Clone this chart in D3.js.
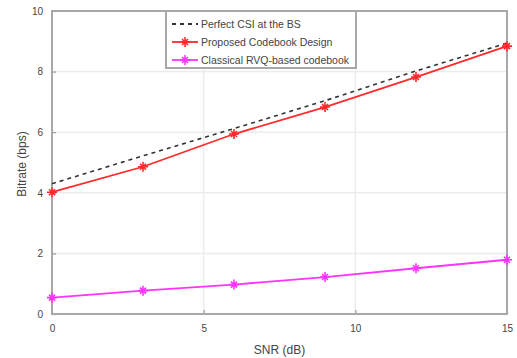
<!DOCTYPE html>
<html>
<head>
<meta charset="utf-8">
<script src="https://cdn.jsdelivr.net/npm/d3@7"></script>
<style>
  body { margin: 0; background: #fff; }
  svg text { font-family: "Liberation Sans", Arial, sans-serif; fill: #444; }
</style>
</head>
<body>
<div id="chart"></div>
<script>
// chart data
var snr = [0, 3, 6, 9, 12, 15];
var perfectCSI = [4.3, 5.22, 6.12, 7.04, 8.02, 8.94];
var proposed = [4.02, 4.86, 5.94, 6.83, 7.82, 8.84];
var classical = [0.54, 0.77, 0.97, 1.22, 1.51, 1.79];
var xTicks = [0, 5, 10, 15];
var yTicks = [0, 2, 4, 6, 8, 10];
var seriesNames = ["Perfect CSI at the BS", "Proposed Codebook Design", "Classical RVQ-based codebook"];

function init() {
    var w = 517, h = 358;
    var left = 52, right = 507, top = 11, bottom = 314;

    var svg = d3.select("#chart").append("svg")
        .attr("width", w)
        .attr("height", h);

    var xScale = d3.scaleLinear().domain([0, 15]).range([left, right]);
    var yScale = d3.scaleLinear().domain([0, 10]).range([bottom, top]);

    // grid
    svg.append("g").selectAll("line.gx")
        .data(xTicks).enter().append("line")
        .attr("x1", d => xScale(d)).attr("x2", d => xScale(d))
        .attr("y1", top).attr("y2", bottom)
        .attr("stroke", "#ececec").attr("stroke-width", 1.5);
    svg.append("g").selectAll("line.gy")
        .data(yTicks).enter().append("line")
        .attr("x1", left).attr("x2", right)
        .attr("y1", d => yScale(d)).attr("y2", d => yScale(d))
        .attr("stroke", "#ececec").attr("stroke-width", 1.5);

    // axes
    var xAxis = d3.axisBottom(xScale).tickValues(xTicks).tickSize(-4).tickPadding(11);
    var yAxis = d3.axisLeft(yScale).tickValues(yTicks).tickSize(-4).tickPadding(9);

    var gx = svg.append("g").attr("transform", "translate(0," + bottom + ")").call(xAxis);
    var gy = svg.append("g").attr("transform", "translate(" + left + ",0)").call(yAxis);
    [gx, gy].forEach(g => {
        g.select(".domain").remove();
        g.selectAll(".tick line").attr("stroke", "#999").attr("stroke-width", 1.2);
        g.selectAll("text").attr("font-size", 10).attr("fill", "#555");
    });

    // box
    svg.append("rect")
        .attr("x", left).attr("y", top)
        .attr("width", right - left).attr("height", bottom - top)
        .attr("fill", "none").attr("stroke", "#a8a8a8").attr("stroke-width", 2);

    // labels
    svg.append("text")
        .attr("x", (left + right) / 2).attr("y", 354)
        .attr("text-anchor", "middle").attr("font-size", 12)
        .text("SNR (dB)");
    svg.append("text")
        .attr("transform", "translate(26," + 164 + ") rotate(-90)")
        .attr("text-anchor", "middle").attr("font-size", 12)
        .text("Bitrate (bps)");

    // lines
    var line = d3.line()
        .x(d => xScale(d[0]))
        .y(d => yScale(d[1]));

    svg.append("path")
        .datum(d3.zip(snr, perfectCSI))
        .attr("d", line)
        .attr("fill", "none").attr("stroke", "#333").attr("stroke-width", 1.6)
        .attr("stroke-dasharray", "4,4");

    var series = [
        { values: proposed, color: "#ff2a2a" },
        { values: classical, color: "#ff33ff" }
    ];

    function marker(g, x, y, color, s) {
        g.append("path")
            .attr("d", "M" + (x - s) + "," + y + "H" + (x + s) + "M" + x + "," + (y - s) + "V" + (y + s) +
                  "M" + (x - s * 0.6) + "," + (y - s * 0.6) + "L" + (x + s * 0.6) + "," + (y + s * 0.6) +
                  "M" + (x - s * 0.6) + "," + (y + s * 0.6) + "L" + (x + s * 0.6) + "," + (y - s * 0.6))
            .attr("stroke", color).attr("stroke-width", 1.6).attr("fill", "none");
    }

    series.forEach(s => {
        var pts = d3.zip(snr, s.values);
        svg.append("path")
            .datum(pts)
            .attr("d", line)
            .attr("fill", "none").attr("stroke", s.color).attr("stroke-width", 1.8);
        var g = svg.append("g");
        pts.forEach(p => marker(g, xScale(p[0]), yScale(p[1]), s.color, 5));
    });

    // legend
    var lg = svg.append("g");
    lg.append("rect")
        .attr("x", 166).attr("y", 11).attr("width", 190).attr("height", 57)
        .attr("fill", "#fff").attr("stroke", "#a8a8a8").attr("stroke-width", 2);
    var styles = [
        { color: "#333", dash: "4,4", mark: false },
        { color: "#ff2a2a", dash: null, mark: true },
        { color: "#ff33ff", dash: null, mark: true }
    ];
    seriesNames.forEach((name, i) => {
        var y = 24 + i * 18;
        lg.append("line")
            .attr("x1", 172).attr("x2", 198).attr("y1", y).attr("y2", y)
            .attr("stroke", styles[i].color).attr("stroke-width", 1.8)
            .attr("stroke-dasharray", styles[i].dash);
        if (styles[i].mark) marker(lg, 185, y, styles[i].color, 5);
        lg.append("text")
            .attr("x", 201).attr("y", y + 3.5)
            .attr("font-size", 10.5).attr("fill", "#444")
            .text(name);
    });
}
window.onload = init;
</script>
</body>
</html>
